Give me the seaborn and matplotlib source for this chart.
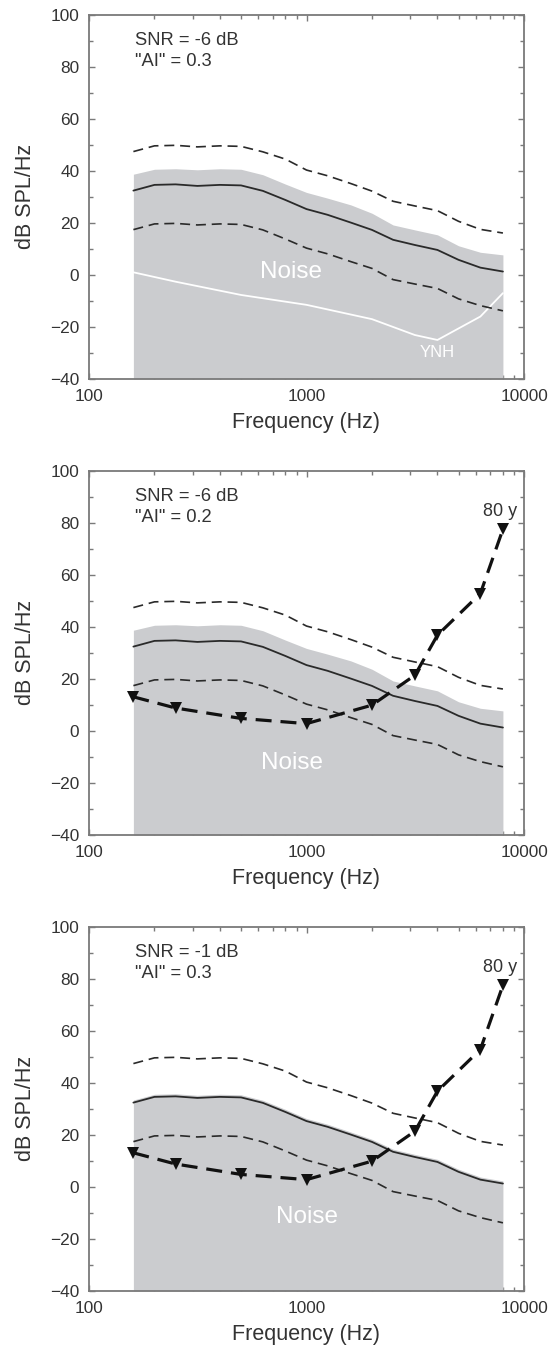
import numpy as np
import pandas as pd
import matplotlib
matplotlib.use("Agg")
import matplotlib.pyplot as plt
import seaborn as sns
from matplotlib.ticker import FixedLocator, NullFormatter

# ---------------- data ----------------
freqs = [160, 200, 250, 315, 400, 500, 630, 800, 1000, 1250, 1600, 2000,
         2500, 3150, 4000, 5000, 6300, 8000]
noise_mean = [32.4, 34.6, 34.8, 34.2, 34.6, 34.4, 32.3, 28.8, 25.3, 23.1, 20.1,
              17.3, 13.5, 11.5, 9.6, 5.8, 2.8, 1.3]
noise_upper = [47.4, 49.6, 49.8, 49.2, 49.6, 49.4, 47.3, 44.5, 40.3, 38.1, 35.1,
               32.2, 28.3, 26.5, 24.7, 20.6, 17.5, 16.1]
noise_lower = [17.4, 19.6, 19.8, 19.2, 19.6, 19.4, 17.3, 13.8, 10.3, 8.1, 5.1,
               2.5, -1.8, -3.5, -5.2, -9.2, -11.8, -13.8]
noise_level_a = [38.7, 40.6, 40.8, 40.4, 40.8, 40.6, 38.5, 34.9, 31.7, 29.5,
                 26.9, 23.7, 19.2, 17.3, 15.4, 11.2, 8.7, 7.7]   # SNR -6 dB
noise_level_b = [33.4, 35.6, 35.8, 35.2, 35.6, 35.4, 33.3, 29.8, 26.3, 24.1,
                 21.1, 18.3, 14.5, 12.5, 10.6, 6.8, 3.8, 2.3]    # SNR -1 dB

ynh_freqs = [160, 250, 500, 1000, 2000, 3150, 4000, 6300, 8000]
ynh_thresh = [1.0, -2.6, -7.7, -11.5, -17.0, -23.1, -25.0, -16.0, -7.0]

old_freqs = [160, 250, 500, 1000, 2000, 3150, 4000, 6300, 8000]
old_thresh = [13.1, 8.8, 4.8, 2.8, 9.9, 21.4, 36.8, 52.8, 77.5]

panel_snr = ["SNR = -6 dB", "SNR = -6 dB", "SNR = -1 dB"]
panel_ai = ['"AI" = 0.3', '"AI" = 0.2', '"AI" = 0.3']
panel_noise = [noise_level_a, noise_level_a, noise_level_b]
panel_show_ynh = [True, False, False]
panel_show_old = [False, True, True]
noise_label_pos = [(850, 1.0), (860, -12.4), (1000, -11.5)]

xticks = [100, 1000, 10000]
xticklabels = ["100", "1000", "10000"]
yticks = [-40, -20, 0, 20, 40, 60, 80, 100]

# ---------------- style ----------------
sns.set_theme(style="ticks")
plt.rcParams["font.family"] = ["Liberation Sans", "DejaVu Sans"]
TXT = "#333333"
SPINE = "#7a7a7a"
FILL = "#cbcccf"

fig = plt.figure(figsize=(5.51, 13.57), dpi=100)
W, H = 551.0, 1357.0
left = 89 / W
width = 435 / W
height = 364.3 / H
bottoms = [1 - 379 / H, 1 - 835 / H, 1 - 1291 / H]

df_noise = pd.DataFrame({"f": freqs, "mean": noise_mean,
                         "upper": noise_upper, "lower": noise_lower})
df_ynh = pd.DataFrame({"f": ynh_freqs, "t": ynh_thresh})
df_old = pd.DataFrame({"f": old_freqs, "t": old_thresh})

for i in range(3):
    ax = fig.add_axes([left, bottoms[i], width, height])
    ax.set_axisbelow(True)
    ax.set_xscale("log")

    ax.fill_between(freqs, -40, panel_noise[i], color=FILL, lw=0, zorder=1)

    if panel_show_ynh[i]:
        sns.lineplot(data=df_ynh, x="f", y="t", ax=ax, color="white",
                     lw=1.3, zorder=2, estimator=None)
        ax.text(4000, -30, "YNH", color="white", fontsize=12,
                ha="center", va="center", zorder=3)

    sns.lineplot(data=df_noise, x="f", y="mean", ax=ax, color="#2a2a2a",
                 lw=1.3, zorder=3, estimator=None)
    for col in ["upper", "lower"]:
        sns.lineplot(data=df_noise, x="f", y=col, ax=ax, color="#2a2a2a",
                     lw=1.2, linestyle=(0, (6, 3.5)), zorder=3, estimator=None)

    if panel_show_old[i]:
        sns.lineplot(data=df_old, x="f", y="t", ax=ax, color="#111111",
                     lw=2.3, linestyle=(0, (5, 2.8)), marker="v",
                     markersize=8.5, markeredgewidth=0,
                     markerfacecolor="#111111", zorder=4, estimator=None)
        ax.text(7800, 84.5, "80 y", color=TXT, fontsize=13,
                ha="center", va="center", zorder=5)

    nx, ny = noise_label_pos[i]
    ax.text(nx, ny, "Noise", color="white", fontsize=17.5,
            ha="center", va="center", zorder=5)

    ax.text(163, 90, panel_snr[i], color=TXT, fontsize=13.2,
            ha="left", va="center")
    ax.text(163, 82, panel_ai[i], color=TXT, fontsize=13.2,
            ha="left", va="center")

    ax.set_xlim(100, 10000)
    ax.set_ylim(-40, 100)
    ax.xaxis.set_major_locator(FixedLocator(xticks))
    ax.set_xticklabels(xticklabels)
    minor_x = [m * d for d in (100, 1000) for m in range(2, 10)]
    ax.xaxis.set_minor_locator(FixedLocator(minor_x))
    ax.xaxis.set_minor_formatter(NullFormatter())
    ax.yaxis.set_major_locator(FixedLocator(yticks))
    ax.yaxis.set_minor_locator(FixedLocator(list(range(-30, 100, 20))))
    ax.yaxis.set_minor_formatter(NullFormatter())

    ax.tick_params(which="both", direction="in", top=True, right=True,
                   color=SPINE, width=1.0, labelcolor=TXT, labelsize=12.4)
    ax.tick_params(which="major", length=4.5)
    ax.tick_params(which="minor", length=3.2)
    ax.tick_params(axis="y", pad=7)
    ax.tick_params(axis="x", pad=7)

    for s in ax.spines.values():
        s.set_color(SPINE)
        s.set_linewidth(1.3)
        s.set_visible(True)
    ax.set_facecolor("white")

    ax.set_xlabel("Frequency (Hz)", fontsize=15.5, color=TXT, labelpad=6)
    ax.set_ylabel("dB SPL/Hz", fontsize=15.5, color=TXT, labelpad=10)
    ax.grid(False)

fig.savefig("out.png", dpi=100)
